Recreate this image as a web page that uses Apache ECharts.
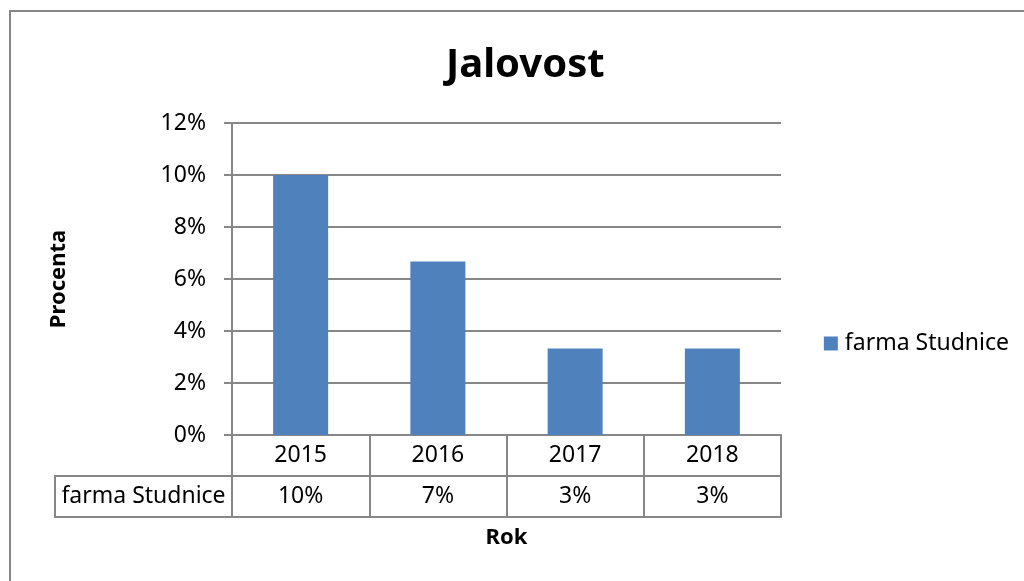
<!DOCTYPE html>
<html>
<head>
<meta charset="utf-8">
<script src="https://cdn.jsdelivr.net/npm/echarts@6/dist/echarts.min.js"></script>
<style>
  html, body { margin: 0; padding: 0; background: #fff; }
  #chart { width: 1024px; height: 581px; }
</style>
</head>
<body>
<div id="chart"></div>
<script>
// Share of barren cows per year, in percent
const years = ['2015', '2016', '2017', '2018'];
const seriesName = 'farma Studnice';
const values = [10, 6.67, 3.33, 3.33];
const yTicks = { min: 0, max: 12, interval: 2 };

const GRAY = '#878787';
const BLUE = '#4F81BD';
const FONT = 'Noto Sans';
const LABEL_SIZE = 23;

// plot area and data-table geometry
const gridBox = { left: 232, right: 243, top: 123, bottom: 146 };
const rowH = 41;
const headerLeft = 55;

const chart = echarts.init(document.getElementById('chart'), null, { renderer: 'canvas' });
const H = 581;
const axisY = H - gridBox.bottom;

const tableAxis = (offset, extra) => Object.assign({
  type: 'category',
  data: years,
  gridIndex: 0,
  position: 'bottom',
  offset: offset,
  boundaryGap: true,
  axisLine: { show: true, lineStyle: { color: GRAY, width: 2 } },
  axisTick: { show: false },
  axisLabel: { show: false },
  splitLine: { show: false }
}, extra);

chart.setOption({
  animation: false,
  textStyle: { fontFamily: FONT },
  title: {
    text: 'Jalovost',
    left: 441,
    top: 41,
    textStyle: { fontFamily: FONT, fontWeight: 'bold', fontSize: 40, color: '#000' }
  },
  legend: {
    data: [seriesName],
    orient: 'vertical',
    right: 10,
    top: 327,
    icon: 'rect',
    itemWidth: 14,
    itemHeight: 14,
    itemGap: 7,
    textStyle: { fontFamily: FONT, fontSize: LABEL_SIZE, color: '#000', padding: [0, 0, 0, 2] }
  },
  grid: {
    left: gridBox.left,
    right: gridBox.right,
    top: gridBox.top,
    bottom: gridBox.bottom,
    containLabel: false
  },
  xAxis: [
    // row of years, with the column dividers running through both table rows
    tableAxis(0, {
      axisTick: { show: true, alignWithLabel: false, length: rowH * 2, lineStyle: { color: GRAY, width: 2 } },
      axisLabel: {
        show: true, margin: rowH / 2, verticalAlign: 'middle',
        fontFamily: FONT, fontSize: LABEL_SIZE, color: '#000'
      }
    }),
    // row of rounded values
    tableAxis(rowH, {
      axisLabel: {
        show: true, margin: rowH / 2, verticalAlign: 'middle',
        fontFamily: FONT, fontSize: LABEL_SIZE, color: '#000',
        formatter: (v, i) => Math.round(values[i]) + '%'
      }
    }),
    // bottom edge of the table, carries the axis title
    tableAxis(rowH * 2, {
      name: 'Rok',
      nameLocation: 'middle',
      nameGap: 10,
      nameTextStyle: { fontFamily: FONT, fontWeight: 'bold', fontSize: 22, color: '#000', verticalAlign: 'top' }
    })
  ],
  yAxis: {
    type: 'value',
    min: yTicks.min,
    max: yTicks.max,
    interval: yTicks.interval,
    name: 'Procenta',
    nameLocation: 'middle',
    nameGap: 162,
    nameRotate: 90,
    nameTextStyle: { fontFamily: FONT, fontWeight: 'bold', fontSize: 22, color: '#000' },
    axisLine: { show: true, lineStyle: { color: GRAY, width: 2 } },
    axisTick: { show: true, length: 8, lineStyle: { color: GRAY, width: 2 } },
    axisLabel: { margin: 26, fontFamily: FONT, fontSize: LABEL_SIZE, color: '#000', formatter: '{value}%' },
    splitLine: { show: true, lineStyle: { color: GRAY, width: 2 } }
  },
  series: [{
    name: seriesName,
    type: 'bar',
    xAxisIndex: 0,
    data: values,
    barWidth: 55,
    itemStyle: { color: BLUE }
  }],
  graphic: [
    // outer chart frame
    {
      type: 'rect',
      shape: { x: 10, y: 11, width: 1200, height: 800 },
      style: { fill: null, stroke: GRAY, lineWidth: 2 },
      silent: true
    },
    // header cell of the value row
    {
      type: 'rect',
      shape: { x: headerLeft, y: axisY + rowH, width: gridBox.left - headerLeft, height: rowH },
      style: { fill: null, stroke: GRAY, lineWidth: 2 },
      silent: true
    },
    {
      type: 'text',
      x: (headerLeft + gridBox.left) / 2,
      y: axisY + rowH * 1.5,
      style: {
        text: seriesName,
        fontFamily: FONT, fontSize: LABEL_SIZE, fill: '#000',
        align: 'center', verticalAlign: 'middle'
      },
      silent: true
    }
  ]
});
</script>
</body>
</html>
